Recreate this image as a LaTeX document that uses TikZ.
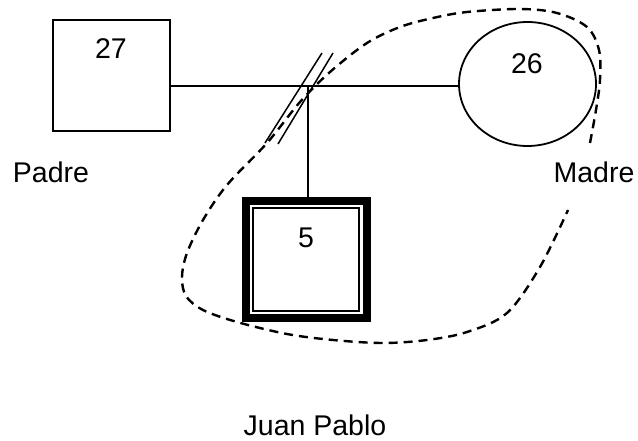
\documentclass[tikz,border=0pt]{standalone}
\usepackage{fontspec}
\setmainfont{Liberation Sans}
\usetikzlibrary{shapes.geometric}
\begin{document}
\begin{tikzpicture}[x=1pt,y=-1pt,
  txt/.style={inner sep=0pt,font=\fontsize{28.5}{34}\selectfont},
  male/.style={draw,line width=1.6pt,minimum width=117pt,minimum height=111pt,inner sep=0pt},
  female/.style={draw,ellipse,line width=1.8pt,minimum width=137pt,minimum height=124pt,inner sep=0pt},
  index/.style={draw,line width=8pt,minimum width=121pt,minimum height=117pt,inner sep=0pt},
  rel/.style={line width=1.5pt},
  divorce/.style={line width=1.5pt},
  dashcurve/.style={line width=2.4pt,dash pattern=on 9pt off 6pt}]
\useasboundingbox (0,0) rectangle (638,441);
\node[male] (padre) at (111.5,75.5) {};
\node[female] (madre) at (527.5,84) {};
\node[index] (hijo) at (306,259.5) {};
\draw[line width=2pt] ([shift={(11.5,11.5)}]hijo.north west) rectangle ([shift={(-11.5,-11.5)}]hijo.south east);
\coordinate (m) at (308,86);
\draw[rel] (padre.east |- m) -- (madre.west |- m);
\draw[rel] (m) -- (m |- hijo.north);
\draw[divorce] (322,53) -- (265,143);
\draw[divorce] (333,53) -- (278,144);
\draw[dashcurve] plot[smooth,tension=0.55] coordinates {
 (590,143) (596,110) (600,80) (599,50) (587,27) (557,13) (520,9) (467,12) (433,18)
 (400,27) (367,43) (330,72) (300,102) (267,143) (227,185) (203,220) (187,253)
 (182,277) (186,296) (203,310) (237,322) (287,334) (333,340) (383,343) (427,340)
 (467,332) (507,313) (540,267) (568,210)};
\node[txt] (t27) at (111,49) {27};
\node[txt] (t26) at (527,64) {26};
\node[txt] (t5) at (306,237.5) {5};
\node[txt] (lpadre) at (51,172.5) {Padre};
\node[txt] (lmadre) at (594,172.5) {Madre};
\node[txt] (ljuan) at (315,425) {Juan Pablo};
\end{tikzpicture}
\end{document}
